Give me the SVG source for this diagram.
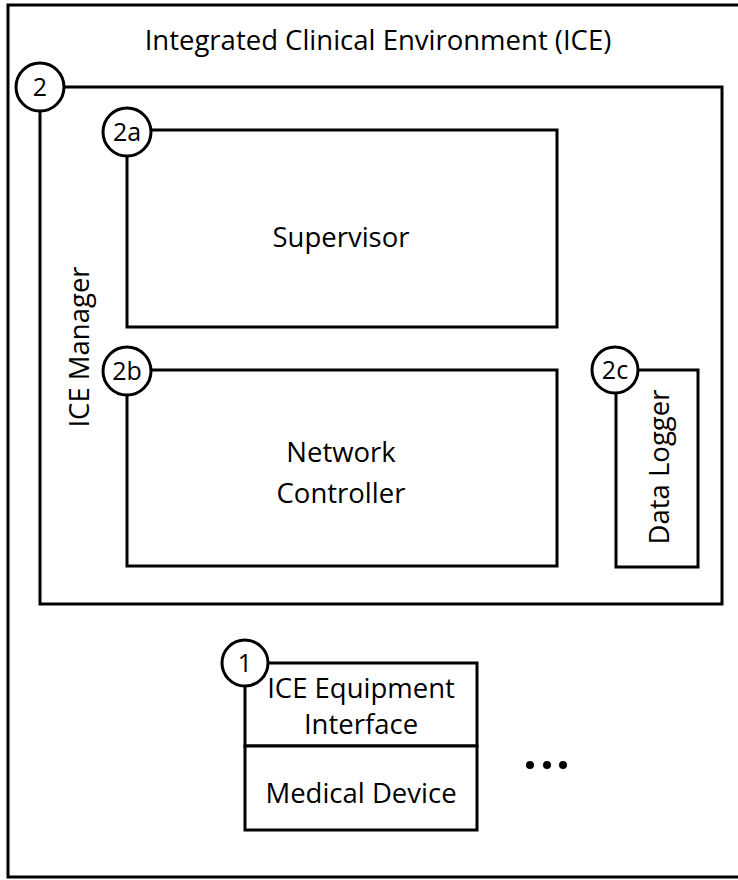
<svg xmlns="http://www.w3.org/2000/svg" width="738" height="880" viewBox="0 0 738 880">
<style>
.box{fill:#fff;stroke:#000;stroke-width:3}
.frame{fill:none;stroke:#000;stroke-width:3}
.circ{fill:#fff;stroke:#000;stroke-width:3}
.dot{fill:#000}
text{font-family:"Open Sans","Noto Sans",sans-serif;fill:#000;text-anchor:middle}
.lbl{font-size:27.5px}
.num{font-size:25px}
</style>
<rect width="738" height="880" fill="#fff"/>
<g id="ice">
<rect class="frame" x="8" y="5" width="740" height="872"/>
<text class="lbl" x="378" y="50">Integrated Clinical Environment (ICE)</text>
</g>
<g id="manager">
<rect class="frame" x="40" y="87" width="682" height="517"/>
<text class="lbl" transform="translate(89,347) rotate(-90)">ICE Manager</text>
<circle class="circ" cx="40" cy="87" r="24"/>
<text class="num" x="40" y="96">2</text>
</g>
<g id="supervisor">
<rect class="box" x="127" y="130" width="430" height="197"/>
<text class="lbl" x="341" y="247">Supervisor</text>
<circle class="circ" cx="127" cy="132" r="24"/>
<text class="num" x="127" y="141">2a</text>
</g>
<g id="network">
<rect class="box" x="127" y="370" width="430" height="196"/>
<text class="lbl" x="341" y="462">Network</text>
<text class="lbl" x="341" y="503">Controller</text>
<circle class="circ" cx="127" cy="371" r="24"/>
<text class="num" x="127" y="380">2b</text>
</g>
<g id="logger">
<rect class="box" x="616" y="370" width="82" height="197"/>
<text class="lbl" transform="translate(669,467) rotate(-90)">Data Logger</text>
<circle class="circ" cx="615" cy="370" r="23"/>
<text class="num" x="615" y="379">2c</text>
</g>
<g id="device">
<rect class="box" x="245" y="663" width="232" height="83"/>
<text class="lbl" x="361" y="698">ICE Equipment</text>
<text class="lbl" x="361" y="734">Interface</text>
<rect class="box" x="245" y="746" width="232" height="84"/>
<text class="lbl" x="361" y="803">Medical Device</text>
<circle class="circ" cx="245" cy="663" r="23"/>
<text class="num" x="245" y="672">1</text>
</g>
<g id="more">
<circle class="dot" cx="530" cy="765" r="4"/>
<circle class="dot" cx="547" cy="765" r="4"/>
<circle class="dot" cx="563" cy="765" r="4"/>
</g>
<g id="connectors"></g>
</svg>
